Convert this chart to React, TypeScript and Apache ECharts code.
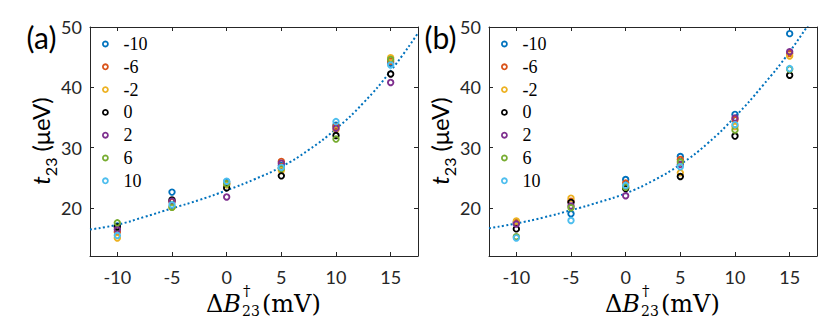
import React, { useEffect, useRef } from 'react';
import * as echarts from 'echarts';

// Detuning values (x axis)
const xVals = [-10, -5, 0, 5, 10, 15];
// legend labels
const seriesNames = ['-10', '-6', '-2', '0', '2', '6', '10'];
const colors = ['#0072BD', '#D95319', '#EDB120', '#000000', '#7E2F8E', '#77AC30', '#4DBEEE'];

// Panel (a) values (µeV)
const aN10 = [17.0, 22.6, 24.3, 27.0, 33.7, 44.0];
const aN6 = [16.0, 21.0, 24.0, 27.7, 33.5, 44.3];
const aN2 = [15.0, 20.1, 23.8, 26.2, 33.0, 44.9];
const a0 = [16.8, 21.3, 23.3, 25.3, 32.0, 42.2];
const aP2 = [16.4, 21.1, 21.8, 27.4, 33.2, 40.8];
const aP6 = [17.5, 20.1, 24.0, 26.5, 31.4, 44.6];
const aP10 = [15.4, 20.5, 24.4, 26.7, 34.3, 43.7];

// Panel (b) values (µeV)
const bN10 = [17.6, 19.0, 24.7, 28.5, 35.5, 48.9];
const bN6 = [17.5, 21.1, 24.1, 28.0, 34.6, 45.6];
const bN2 = [17.8, 21.6, 23.5, 25.8, 33.5, 45.2];
const b0 = [16.5, 20.9, 23.2, 25.2, 31.9, 42.0];
const bP2 = [17.3, 20.3, 22.0, 27.2, 34.9, 45.9];
const bP6 = [15.2, 20.0, 23.4, 27.6, 32.9, 43.0];
const bP10 = [15.0, 17.9, 23.7, 26.8, 33.8, 43.1];

// Fitted curves
const fitX = [-12.5, -10, -7.5, -5, -2.5, 0, 2.5, 5, 7.5, 10, 12.5, 15, 17.5];
const fitA = [16.4, 17.2, 18.5, 19.9, 21.3, 22.9, 24.7, 26.8, 29.6, 33.1, 37.4, 42.7, 49.0];
const fitB = [16.6, 17.4, 18.4, 19.6, 20.9, 22.4, 24.5, 27.2, 30.7, 35.1, 40.2, 45.9, 52.6];

const panelA = [aN10, aN6, aN2, a0, aP2, aP6, aP10];
const panelB = [bN10, bN6, bN2, b0, bP2, bP6, bP10];

const AXIS = '#262626';
const SANS = 'Lato, "Open Sans", sans-serif';
const SERIF = '"DejaVu Serif", "Liberation Serif", serif';
const LSERIF = '"Liberation Serif", serif';
const PANEL_DX = 399;

function xAxis(gridIndex: number, position: string, showLabel: boolean) {
  return {
    type: 'value',
    gridIndex,
    position,
    min: -12.5,
    max: 17.5,
    splitNumber: 6,
    axisLine: { show: true, onZero: false, lineStyle: { color: AXIS, width: 1 } },
    axisTick: { show: true, inside: true, length: 4, lineStyle: { color: AXIS, width: 1 } },
    axisLabel: {
      show: showLabel,
      showMinLabel: false,
      showMaxLabel: false,
      margin: 12,
      fontFamily: SANS,
      fontSize: 18,
      color: AXIS,
      formatter: (v: number) => (Number.isInteger(v) ? String(v) : ''),
    },
    splitLine: { show: false },
  };
}

function yAxis(gridIndex: number, position: string, showLabel: boolean) {
  return {
    type: 'value',
    gridIndex,
    position,
    min: 12,
    max: 50,
    splitNumber: 4,
    axisLine: { show: true, onZero: false, lineStyle: { color: AXIS, width: 1 } },
    axisTick: { show: true, inside: true, length: 4, lineStyle: { color: AXIS, width: 1 } },
    axisLabel: {
      show: showLabel,
      showMinLabel: false,
      margin: 8,
      fontFamily: SANS,
      fontSize: 18,
      color: AXIS,
    },
    splitLine: { show: false },
  };
}

function xTitle(cx: number) {
  return [
    {
      type: 'text', x: cx - 13, y: 304,
      style: {
        text: '{d|Δ}{b|B}', fill: '#000', align: 'right', verticalAlign: 'middle',
        rich: {
          d: { fontFamily: SERIF, fontSize: 24 },
          b: { fontFamily: SERIF, fontSize: 24, fontStyle: 'italic' },
        },
      },
    },
    { type: 'text', x: cx - 11, y: 291, style: { text: '†', fontFamily: SERIF, fontSize: 15, fill: '#000', align: 'left', verticalAlign: 'middle' } },
    { type: 'text', x: cx - 12, y: 311, style: { text: '23', fontFamily: SERIF, fontSize: 14, fill: '#000', align: 'left', verticalAlign: 'middle' } },
    { type: 'text', x: cx + 8, y: 304, style: { text: '(mV)', fontFamily: SERIF, fontSize: 24, fill: '#000', align: 'left', verticalAlign: 'middle' } },
  ];
}

function yTitle(cx: number) {
  return {
    type: 'text',
    x: cx,
    y: 141,
    rotation: Math.PI / 2,
    style: {
      text: '{t|t}{s|23}{u| (μeV)}',
      align: 'center',
      verticalAlign: 'middle',
      fill: '#000',
      rich: {
        t: { fontFamily: SANS, fontStyle: 'italic', fontSize: 24, lineHeight: 30, verticalAlign: 'top' },
        s: { fontFamily: SANS, fontSize: 16, lineHeight: 16, verticalAlign: 'bottom' },
        u: { fontFamily: SANS, fontSize: 24, lineHeight: 30, verticalAlign: 'top' },
      },
    },
  };
}

const legendText = { fontFamily: LSERIF, fontSize: 18, lineHeight: 17, color: '#000' };

export default function App() {
  const ref = useRef<HTMLDivElement>(null);
  useEffect(() => {
    if (!ref.current) return;
    const chart = echarts.init(ref.current, null, { renderer: 'svg' });
    const series: any[] = [];
    [fitA, fitB].forEach((fit, p) => {
      series.push({
        type: 'line',
        name: 'fit',
        xAxisIndex: p * 2,
        yAxisIndex: p * 2,
        data: fitX.map((x, j) => [x, fit[j]]),
        symbol: 'none',
        showSymbol: false,
        smooth: true,
        clip: true,
        silent: true,
        z: 2,
        lineStyle: { color: '#0072BD', width: 2, type: [2, 2.4], cap: 'butt' },
      });
    });
    [panelA, panelB].forEach((panel, p) => {
      panel.forEach((vals, i) => {
        series.push({
          type: 'scatter',
          name: seriesNames[i],
          xAxisIndex: p * 2,
          yAxisIndex: p * 2,
          data: xVals.map((x, j) => [x, vals[j]]),
          symbol: 'circle',
          symbolSize: 5.5,
          z: 3,
          itemStyle: { color: 'rgba(0,0,0,0)', borderColor: colors[i], borderWidth: 1.9, opacity: 1 },
        });
      });
    });
    const option: any = {
      animation: false,
      backgroundColor: '#ffffff',
      textStyle: { fontFamily: SANS },
      grid: [
        { left: 90, top: 27, width: 328, height: 229, outerBoundsMode: 'none' },
        { left: 90 + PANEL_DX, top: 27, width: 328, height: 229, outerBoundsMode: 'none' },
      ],
      xAxis: [xAxis(0, 'bottom', true), xAxis(0, 'top', false), xAxis(1, 'bottom', true), xAxis(1, 'top', false)],
      yAxis: [yAxis(0, 'left', true), yAxis(0, 'right', false), yAxis(1, 'left', true), yAxis(1, 'right', false)],
      legend: [0, 1].map((p) => ({
        orient: 'vertical',
        left: 102 + p * PANEL_DX,
        top: 35,
        padding: 0,
        itemWidth: 26,
        itemHeight: 5,
        itemGap: 4.8,
        selectedMode: false,
        textStyle: legendText,
        data: seriesNames.map((n, i) => ({
          name: n,
          icon: 'circle',
          textStyle: legendText,
          itemStyle: { color: 'rgba(0,0,0,0)', borderColor: colors[i], borderWidth: 1.8 },
        })),
      })),
      graphic: [
        { type: 'text', x: 41.5, y: 36.5, style: { text: '(a)', fontFamily: SANS, fontSize: 30, fill: '#000', align: 'center', verticalAlign: 'middle' } },
        { type: 'text', x: 41.5 + PANEL_DX, y: 36.5, style: { text: '(b)', fontFamily: SANS, fontSize: 30, fill: '#000', align: 'center', verticalAlign: 'middle' } },
        yTitle(43),
        yTitle(43 + PANEL_DX),
        ...xTitle(254),
        ...xTitle(254 + PANEL_DX),
      ],
      series,
    };
    chart.setOption(option);
    return () => chart.dispose();
  }, []);
  return (
    <div
      ref={ref}
      style={{ position: 'fixed', left: 0, top: 0, width: 831, height: 322, background: '#fff' }}
    />
  );
}
